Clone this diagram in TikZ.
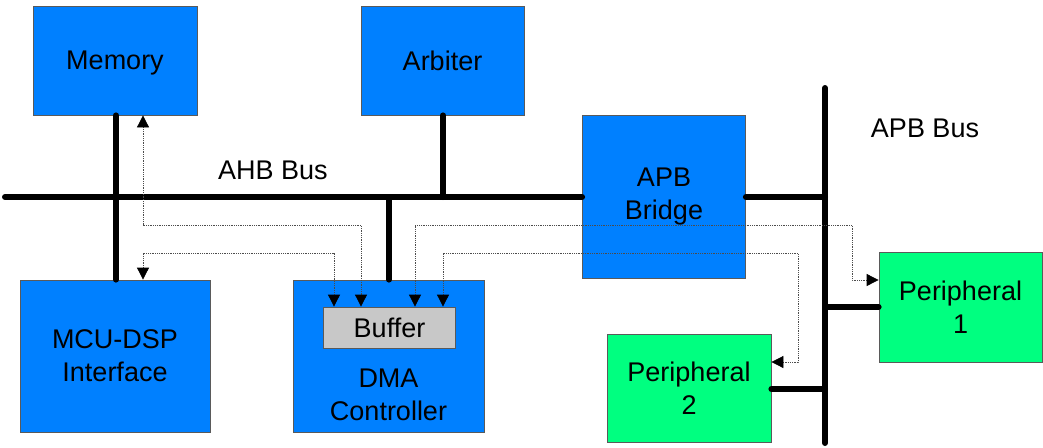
\documentclass[tikz,border=0pt]{standalone}
\usepackage{fontspec}
\setmainfont{Liberation Sans}
\usetikzlibrary{arrows.meta}
\definecolor{blk}{RGB}{0,128,255}
\definecolor{grn}{RGB}{0,255,128}
\definecolor{bufgray}{RGB}{200,200,200}
\definecolor{edge}{RGB}{90,90,90}
\tikzset{
  box/.style={draw=edge, line width=0.8pt, fill=blk, inner sep=0pt, align=center,
    font=\fontsize{27}{33}\selectfont},
  pbox/.style={box, fill=grn},
  bus/.style={line width=6pt, line cap=round, black},
  dat/.style={densely dotted, line width=0.8pt, black!70,
    {Triangle[length=12pt,width=12pt,black]}-{Triangle[length=12pt,width=12pt,black]}},
  lbl/.style={font=\fontsize{27}{33}\selectfont, inner sep=0pt}
}
\begin{document}
\begin{tikzpicture}[x=1pt,y=-1pt]
\useasboundingbox (0,0) rectangle (1043,447);
% boxes
\node[box, text depth=0pt, minimum width=164pt, minimum height=109pt] (mem) at (115,60.5) {Memory};
\node[box, minimum width=163pt, minimum height=109pt] (arb) at (442.5,60.5) {Arbiter};
\node[box, minimum width=163pt, minimum height=163pt] (brg) at (664,196.5) {APB\\Bridge};
\node[box, minimum width=190pt, minimum height=152pt] (mcu) at (115,356) {MCU-DSP\\Interface};
\node[box, minimum width=191pt, minimum height=152pt] (dma) at (388.5,356) {};
\node[lbl, align=center] (dmat) at (388.5,395) {DMA\\Controller};
\node[box, fill=bufgray, minimum width=132pt, minimum height=41pt] (buf) at (389.5,327.5) {Buffer};
\node[pbox, minimum width=163pt, minimum height=110pt] (p1) at (960.5,307) {Peripheral\\1};
\node[pbox, minimum width=164pt, minimum height=108pt] (p2) at (689,388) {Peripheral\\2};
% labels
\node[lbl] (ahbl) at (273,170) {AHB Bus};
\node[lbl] (apbl) at (925,128) {APB Bus};
% coordinates
\coordinate (ahbL) at (5,197);
\coordinate (apbT) at (825,88);
\coordinate (apbB) at (825,443);
\coordinate (memx) at (116,0);
\coordinate (arbx) at (443,0);
\coordinate (dmax) at (389,0);
\coordinate (ybus) at (0,197);
\coordinate (c1) at (143,0);
\coordinate (c2) at (334,0);
\coordinate (c3) at (361,0);
\coordinate (c4) at (415,0);
\coordinate (c5) at (443,0);
\coordinate (c6) at (852,0);
\coordinate (c7) at (798,0);
\coordinate (y1) at (0,225);
\coordinate (y2) at (0,253);
\coordinate (y3) at (0,280);
\coordinate (y4) at (0,362);
\coordinate (yp1) at (0,307);
\coordinate (yp2) at (0,389);
% buses
\draw[bus] (ahbL) -- (brg.west |- ybus);
\draw[bus] (brg.east |- ybus) -- (apbT |- ybus);
\draw[bus] (apbT) -- (apbB);
\draw[bus] (mem.south -| memx) -- (mcu.north -| memx);
\draw[bus] (arb.south -| arbx) -- (arbx |- ybus);
\draw[bus] (dmax |- ybus) -- (dma.north -| dmax);
\draw[bus] (apbT |- yp1) -- (p1.west |- yp1);
\draw[bus] (p2.east |- yp2) -- (apbT |- yp2);
% data paths
\draw[dat] (mem.south -| c1) -- (c1 |- y1) -- (c3 |- y1) -- (buf.north -| c3);
\draw[dat] (mcu.north -| c1) -- (c1 |- y2) -- (c2 |- y2) -- (buf.north -| c2);
\draw[dat] (buf.north -| c4) -- (c4 |- y1) -- (c6 |- y1) -- (c6 |- y3) -- (p1.west |- y3);
\draw[dat] (buf.north -| c5) -- (c5 |- y2) -- (c7 |- y2) -- (c7 |- y4) -- (p2.east |- y4);
\end{tikzpicture}
\end{document}
